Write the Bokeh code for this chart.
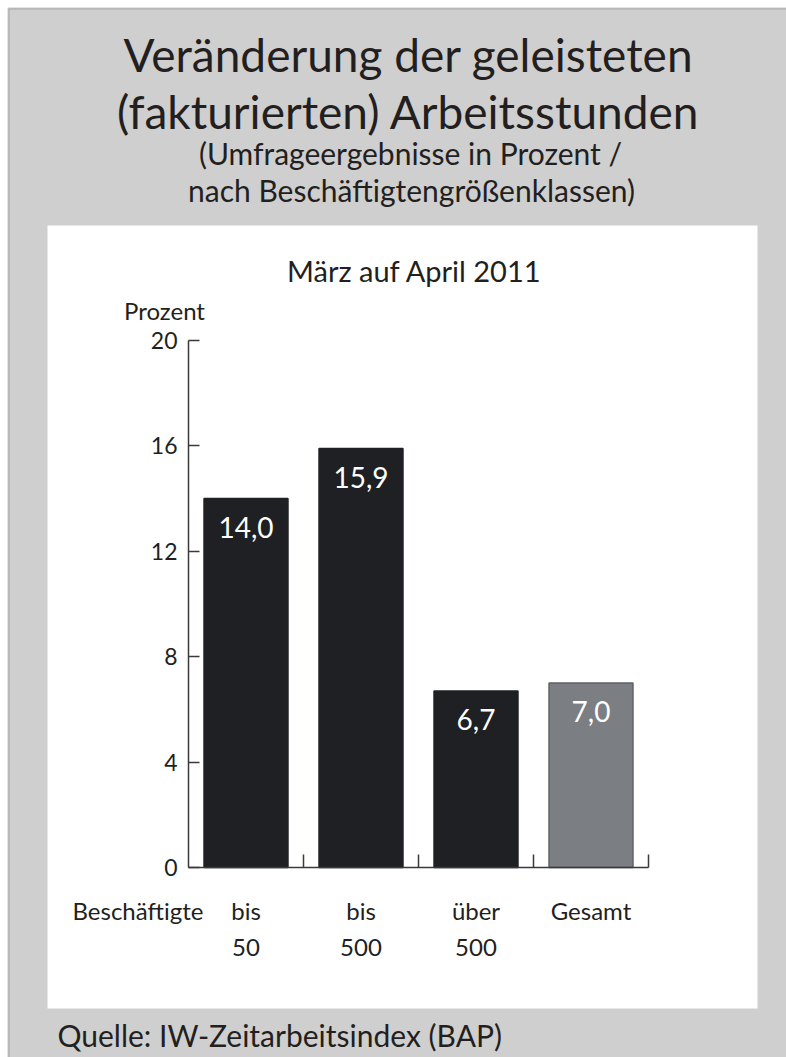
from bokeh.plotting import figure
from bokeh.models import (ColumnDataSource, Range1d, FixedTicker, LabelSet, Label,
                          BoxAnnotation)
from bokeh.core.properties import value
from bokeh.embed import file_html
from bokeh.resources import INLINE
import numpy as np

# ---------------- data ----------------
categories = ["bis\n50", "bis\n500", "über\n500", "Gesamt"]
values = [14.0, 15.9, 6.7, 7.0]
bar_colors = ["#1e2024", "#1e2024", "#1e2024", "#7b7f83"]
bar_line_colors = ["#1e2024", "#1e2024", "#1e2024", "#5e6266"]
y_ticks = [0, 4, 8, 12, 16, 20]

title_lines = ["Veränderung der geleisteten", "(fakturierten) Arbeitsstunden"]
subtitle_lines = ["(Umfrageergebnisse in Prozent /", "nach Beschäftigtengrößenklassen)"]
panel_title = "März auf April 2011"
y_unit = "Prozent"
x_caption = "Beschäftigte"
source_text = "Quelle: IW-Zeitarbeitsindex (BAP)"

FONT = "Lato"
TXT = "#231f20"
W, H = 786, 1057
X0, XS = 188, 115.0      # pixel of x=0, pixels per category
Y0, YS = 867, 26.35      # pixel (from top) of y=0, pixels per percent


def dx(px):
    return (px - X0) / XS


def dy(py):
    return (Y0 - py) / YS


n = len(categories)
xs = np.arange(n) + 0.5
src = ColumnDataSource(dict(
    x=xs, top=values, color=bar_colors, lcolor=bar_line_colors,
    label=[f"{v:.1f}".replace(".", ",") for v in values],
))

p = figure(width=W, height=H, output_backend="svg", toolbar_location=None,
           x_range=Range1d(dx(0), dx(W)), y_range=Range1d(dy(H), dy(0)),
           min_border=0)
p.border_fill_color = "white"
p.background_fill_color = "white"
p.outline_line_color = None
p.grid.visible = False

# background panels (decoration)
p.add_layout(BoxAnnotation(left=dx(8), right=dx(W + 50), top=dy(8), bottom=dy(H + 50),
                           fill_color="#cfcfcf", fill_alpha=1,
                           line_color="#4d4d4d", line_width=2, level="underlay"))
p.add_layout(BoxAnnotation(left=dx(47), right=dx(757), top=dy(225), bottom=dy(1008),
                           fill_color="white", fill_alpha=1,
                           line_color=None, level="underlay"))

p.vbar(x="x", top="top", width=0.73, bottom=0, source=src,
       fill_color="color", line_color="lcolor", line_width=1.5)

p.add_layout(LabelSet(x="x", y="top", text="label", source=src,
                      text_color="white", text_font=value(FONT), text_font_size="28px",
                      text_align="center", text_baseline="top", y_offset=-18))

# y axis
ya = p.yaxis[0]
ya.fixed_location = 0
ya.bounds = (0, 20)
ya.ticker = FixedTicker(ticks=y_ticks)
ya.major_tick_in = 11
ya.major_tick_out = 0
ya.minor_tick_line_color = None
ya.axis_line_color = "#3a3a3a"
ya.axis_line_width = 1.5
ya.major_tick_line_color = "#3a3a3a"
ya.major_tick_line_width = 1.5
ya.major_label_text_font = FONT
ya.major_label_text_font_size = "23px"
ya.major_label_text_color = TXT
ya.major_label_standoff = 11

# x axis
xa = p.xaxis[0]
xa.fixed_location = 0
xa.bounds = (0, n)
xa.ticker = FixedTicker(ticks=list(xs), minor_ticks=list(range(1, n + 1)))
xa.major_label_overrides = {float(x): c for x, c in zip(xs, categories)}
xa.major_tick_line_color = None
xa.minor_tick_in = 13
xa.minor_tick_out = 0
xa.minor_tick_line_color = "#3a3a3a"
xa.minor_tick_line_width = 1.5
xa.axis_line_color = "#3a3a3a"
xa.axis_line_width = 1.5
xa.major_label_text_font = FONT
xa.major_label_text_font_size = "24px"
xa.major_label_text_color = TXT
xa.major_label_text_line_height = 1.25
xa.major_label_standoff = 22


def lab(text, x, y, size, align="center"):
    p.add_layout(Label(x=dx(x), y=dy(y), text=text,
                       text_font=FONT, text_font_size=size, text_color=TXT,
                       text_align=align, text_baseline="middle"))


lab(title_lines[0], 408, 54, "46px")
lab(title_lines[1], 408, 111, "46px")
lab(subtitle_lines[0], 410, 152, "30px")
lab(subtitle_lines[1], 411, 189, "30px")
lab(panel_title, 414, 270, "29px")
lab(y_unit, 164, 310, "24px")
lab(x_caption, 72, 910, "24px", align="left")
lab(source_text, 57, 1034, "30px", align="left")

open("out.html", "w").write(file_html(p, INLINE))
